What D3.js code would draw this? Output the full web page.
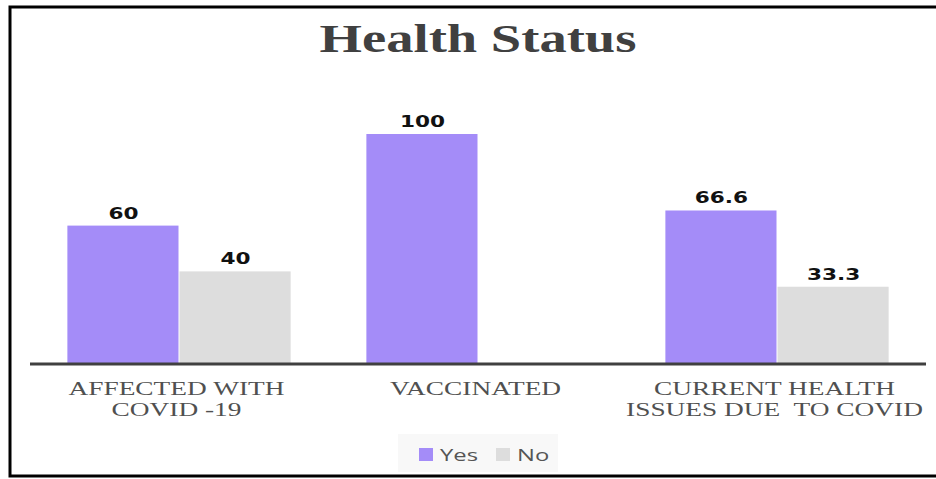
<!DOCTYPE html>
<html>
<head>
<meta charset="utf-8">
<script src="https://cdn.jsdelivr.net/npm/d3@7"></script>
<style>
    body { margin: 0; background: #fff; }
    svg { display: block; }
</style>
</head>
<body>
<div id="chart"></div>
<script>
const categories = [["AFFECTED WITH", "COVID -19"], ["VACCINATED"], ["CURRENT HEALTH", "ISSUES DUE  TO COVID"]];
const seriesNames = ["Yes", "No"];
const yesValues = [60, 100, 66.6];
const noValues = [40, null, 33.3];
const colors = ["#a48cf8", "#dddddd"];

// the source picture is stretched sideways, so text is widened to match
const stretch = 1.4;

function init() {
    const w = 936;
    const h = 479;

    const svg = d3.select("#chart")
        .append("svg")
        .attr("width", w)
        .attr("height", h);

    // outer frame
    svg.append("rect")
        .attr("x", 10)
        .attr("y", 7)
        .attr("width", 940)
        .attr("height", 469)
        .attr("fill", "none")
        .attr("stroke", "#000")
        .attr("stroke-width", 3);

    svg.append("text")
        .attr("transform", "translate(478, 52) scale(" + stretch + ",1)")
        .attr("text-anchor", "middle")
        .attr("font-family", "Liberation Serif, Times New Roman, serif")
        .attr("font-weight", "bold")
        .attr("font-size", 39)
        .attr("fill", "#404040")
        .text("Health Status");

    const x0 = d3.scaleBand()
        .domain(d3.range(categories.length))
        .range([30, 927])
        .paddingInner(0.25)
        .paddingOuter(0.125);

    const x1 = d3.scaleBand()
        .domain(seriesNames)
        .range([0, x0.bandwidth()]);

    const y = d3.scaleLinear()
        .domain([0, 100])
        .range([363, 134]);

    let rows = [];
    for (let i = 0; i < categories.length; i++) {
        rows.push({ cat: i, series: "Yes", value: yesValues[i], color: colors[0] });
        if (noValues[i] !== null) {
            rows.push({ cat: i, series: "No", value: noValues[i], color: colors[1] });
        }
    }

    svg.selectAll("rect.bar")
        .data(rows)
        .enter()
        .append("rect")
        .attr("class", "bar")
        .attr("x", d => x0(d.cat) + x1(d.series))
        .attr("y", d => y(d.value))
        .attr("width", x1.bandwidth() - 1)
        .attr("height", d => y(0) - y(d.value))
        .attr("fill", d => d.color);

    svg.selectAll("text.val")
        .data(rows)
        .enter()
        .append("text")
        .attr("class", "val")
        .attr("transform", d => "translate(" + (x0(d.cat) + x1(d.series) + x1.bandwidth() / 2) + "," + (y(d.value) - 7) + ") scale(1.35,1)")
        .attr("text-anchor", "middle")
        .attr("font-family", "DejaVu Sans, Verdana, sans-serif")
        .attr("font-weight", "bold")
        .attr("font-size", 16)
        .attr("fill", "#111")
        .text(d => d.value);

    // axis
    svg.append("line")
        .attr("x1", 30)
        .attr("x2", 926)
        .attr("y1", y(0) + 1)
        .attr("y2", y(0) + 1)
        .attr("stroke", "#404040")
        .attr("stroke-width", 3);

    const labels = svg.selectAll("text.cat")
        .data(categories)
        .enter()
        .append("text")
        .attr("class", "cat")
        .attr("transform", (d, i) => "translate(" + (x0(i) + x0.bandwidth() / 2 - 3) + ",395) scale(1.44,1)")
        .attr("text-anchor", "middle")
        .attr("font-family", "Liberation Serif, Times New Roman, serif")
        .attr("font-size", 19)
        .attr("fill", "#505050");

    labels.selectAll("tspan")
        .data(d => d)
        .enter()
        .append("tspan")
        .attr("x", 0)
        .attr("dy", (d, j) => j === 0 ? 0 : 21)
        .style("white-space", "pre")
        .text(d => d);

    // legend
    const lg = svg.append("g").attr("transform", "translate(398, 434)");
    lg.append("rect")
        .attr("width", 160)
        .attr("height", 38)
        .attr("fill", "#f8f8f8");

    const items = lg.selectAll("g.item")
        .data(seriesNames)
        .enter()
        .append("g")
        .attr("class", "item")
        .attr("transform", (d, i) => "translate(" + (21 + i * 77) + ", 0)");

    items.append("rect")
        .attr("y", 14)
        .attr("width", 14)
        .attr("height", 13)
        .attr("fill", (d, i) => colors[i]);

    items.append("text")
        .attr("transform", "translate(21, 27) scale(" + stretch + ",1)")
        .attr("font-family", "Open Sans, Noto Sans, sans-serif")
        .attr("font-size", 17)
        .attr("fill", "#555")
        .text(d => d);
}

window.onload = init;
</script>
</body>
</html>
